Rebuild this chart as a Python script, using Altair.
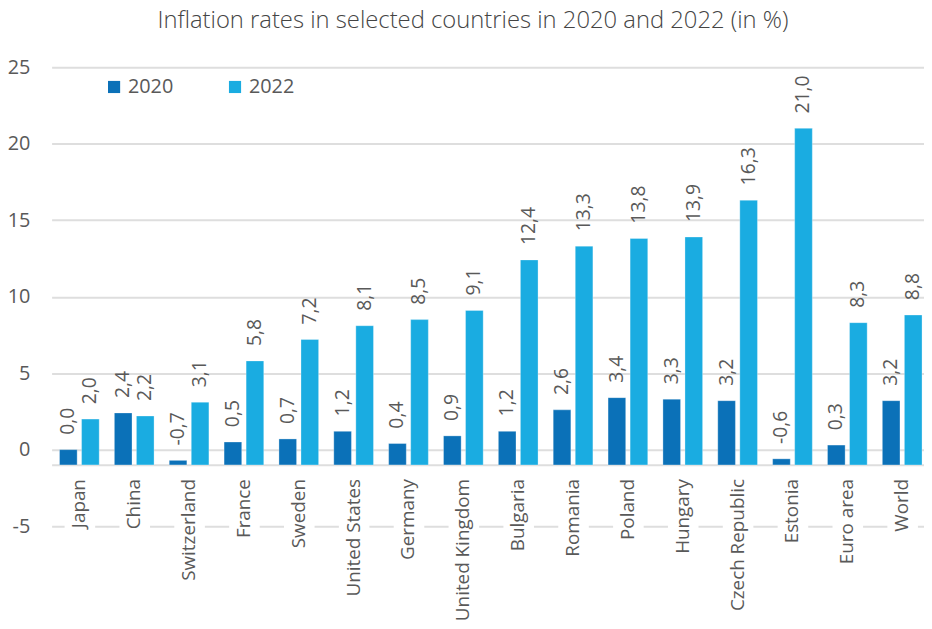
import altair as alt
import pandas as pd

countries = ["Japan", "China", "Switzerland", "France", "Sweden", "United States",
             "Germany", "United Kingdom", "Bulgaria", "Romania", "Poland", "Hungary",
             "Czech Republic", "Estonia", "Euro area", "World"]
v2020 = [0.0, 2.4, -0.7, 0.5, 0.7, 1.2, 0.4, 0.9, 1.2, 2.6, 3.4, 3.3, 3.2, -0.6, 0.3, 3.2]
v2022 = [2.0, 2.2, 3.1, 5.8, 7.2, 8.1, 8.5, 9.1, 12.4, 13.3, 13.8, 13.9, 16.3, 21.0, 8.3, 8.8]
years = ["2020", "2022"]
colors = ["#0b71b8", "#1aace1"]
y_ticks = [-5, 0, 5, 10, 15, 20, 25]

rows = []
for i, c in enumerate(countries):
    for yr, vals in zip(years, [v2020, v2022]):
        v = vals[i]
        rows.append({"country": c, "year": yr, "value": v,
                     "label": f"{v:.1f}".replace(".", ",")})
df = pd.DataFrame(rows)

FONT = "Open Sans"
TXT = "#595959"
GRID = "#dedede"
FS = 19.5

x_enc = alt.X("country:N", sort=countries, title=None,
              scale=alt.Scale(paddingInner=0.2766, paddingOuter=0.09, align=0.8),
              axis=alt.Axis(labelAngle=-90, labelFontSize=19, labelColor=TXT,
                            labelFont=FONT, labelPadding=14,
                            ticks=False, domainColor=GRID, domainWidth=2,
                            offset=-62, grid=False))
y_scale = alt.Scale(domain=[-5, 25])

base = alt.Chart(df)

bars = base.mark_bar(stroke="#ffffff", strokeWidth=0.6, strokeOpacity=0.5).encode(
    x=x_enc,
    xOffset=alt.XOffset("year:N", scale=alt.Scale(paddingInner=0.2, paddingOuter=0)),
    y=alt.Y("value:Q", scale=y_scale, title=None,
            axis=alt.Axis(values=y_ticks, labelFontSize=20, labelColor=TXT,
                          labelFont=FONT, ticks=False,
                          domain=False, labelPadding=22, gridColor=GRID,
                          gridWidth=2,
                          labelExpr="'' + datum.value",
                          gridDash=alt.condition("datum.value == -5",
                                                 alt.value([24.5, 30.83]),
                                                 alt.value([])),
                          gridDashOffset=alt.condition("datum.value == -5",
                                                       alt.value(11.9),
                                                       alt.value(0)))),
    y2=alt.datum(-1),
    color=alt.Color("year:N", scale=alt.Scale(domain=years, range=colors),
                    legend=alt.Legend(orient="none", legendX=53, legendY=10,
                                      direction="horizontal", title=None,
                                      symbolType="square", symbolSize=150,
                                      labelFontSize=20, labelColor=TXT,
                                      labelFont=FONT,
                                      columnPadding=52, labelOffset=4,
                                      symbolStrokeWidth=0, padding=0)),
)

labels = base.mark_text(angle=270, align="left", baseline="middle", dx=15,
                        fontSize=FS, font=FONT, color=TXT).encode(
    x=alt.X("country:N", sort=countries),
    xOffset=alt.XOffset("year:N"),
    y=alt.Y("value:Q", scale=y_scale),
    text="label:N",
)

chart = alt.layer(bars, labels).properties(
    width=880, height=463,
    autosize=alt.AutoSizeParams(type="none"),
    padding={"left": 44, "top": 57, "right": 0, "bottom": 93},
    title=alt.Title("Inflation rates in selected countries in 2020 and 2022 (in %)",
                    fontSize=24, font=FONT, fontWeight=300, color="#444444",
                    anchor="middle", dx=-15, offset=24),
).configure_view(stroke=None)

chart.save("out.html", embed_options={"renderer": "svg", "actions": False})
